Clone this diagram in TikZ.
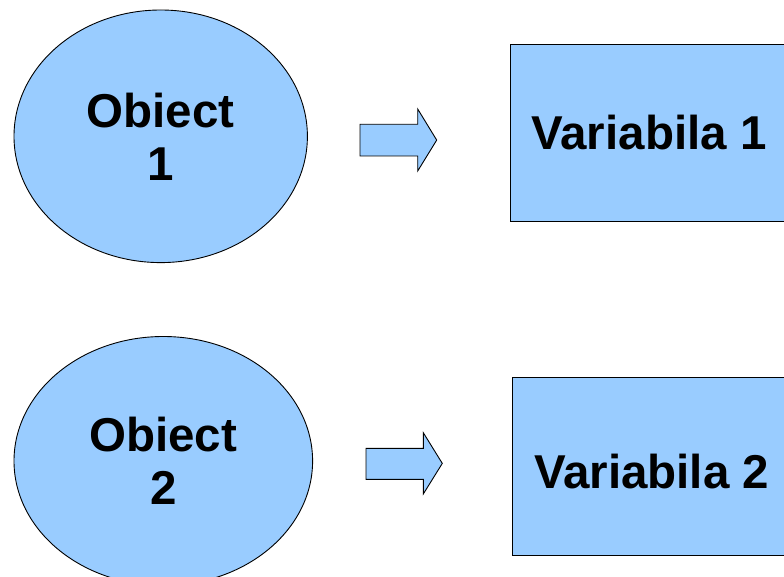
\documentclass[tikz,border=0pt]{standalone}
\usepackage{fontspec}
\setmainfont{Liberation Sans}
\usetikzlibrary{shapes.geometric}
\definecolor{skyfill}{HTML}{99CCFF}
\begin{document}
\begin{tikzpicture}[x=1pt,y=-1pt,
  shapefill/.style={fill=skyfill, draw=black, line width=0.9pt},
  bigtext/.style={font=\bfseries\fontsize{47.5}{53}\selectfont},
  objoval/.style={shapefill, bigtext, ellipse, inner sep=0pt, align=center},
  varbox/.style={shapefill, bigtext, rectangle, inner sep=0pt},
  blockarrow/.style={shapefill, line join=miter}
]
\useasboundingbox (0,0) rectangle (784,577);
\clip (0,0) rectangle (784,577);

% objects
\node[objoval, minimum width=293.4pt, minimum height=252.6pt] (obj1) at (160.7,136.3) {Obiect\\1};
\node[objoval, minimum width=298.6pt, minimum height=249pt] (obj2) at (163.3,461) {Obiect\\2};

% variables
\node[varbox, minimum width=278pt, minimum height=177.7pt] (var1) at (649,132.9) {Variabila 1};
\node[varbox, minimum width=278.7pt, minimum height=177.7pt, text height=44pt, text depth=0pt] (var2) at (651.7,466.2) {Variabila 2};

% block arrows
\draw[blockarrow] (360,124.3) -- (417.7,124.3) -- (417.7,109) -- (436.7,140.1)
  -- (417.7,171) -- (417.7,156) -- (360,156) -- cycle;
\draw[blockarrow] (366,448.3) -- (423.3,448.3) -- (423.3,432.7) -- (442.3,463.4)
  -- (423.3,494) -- (423.3,479.3) -- (366,479.3) -- cycle;
\end{tikzpicture}
\end{document}
